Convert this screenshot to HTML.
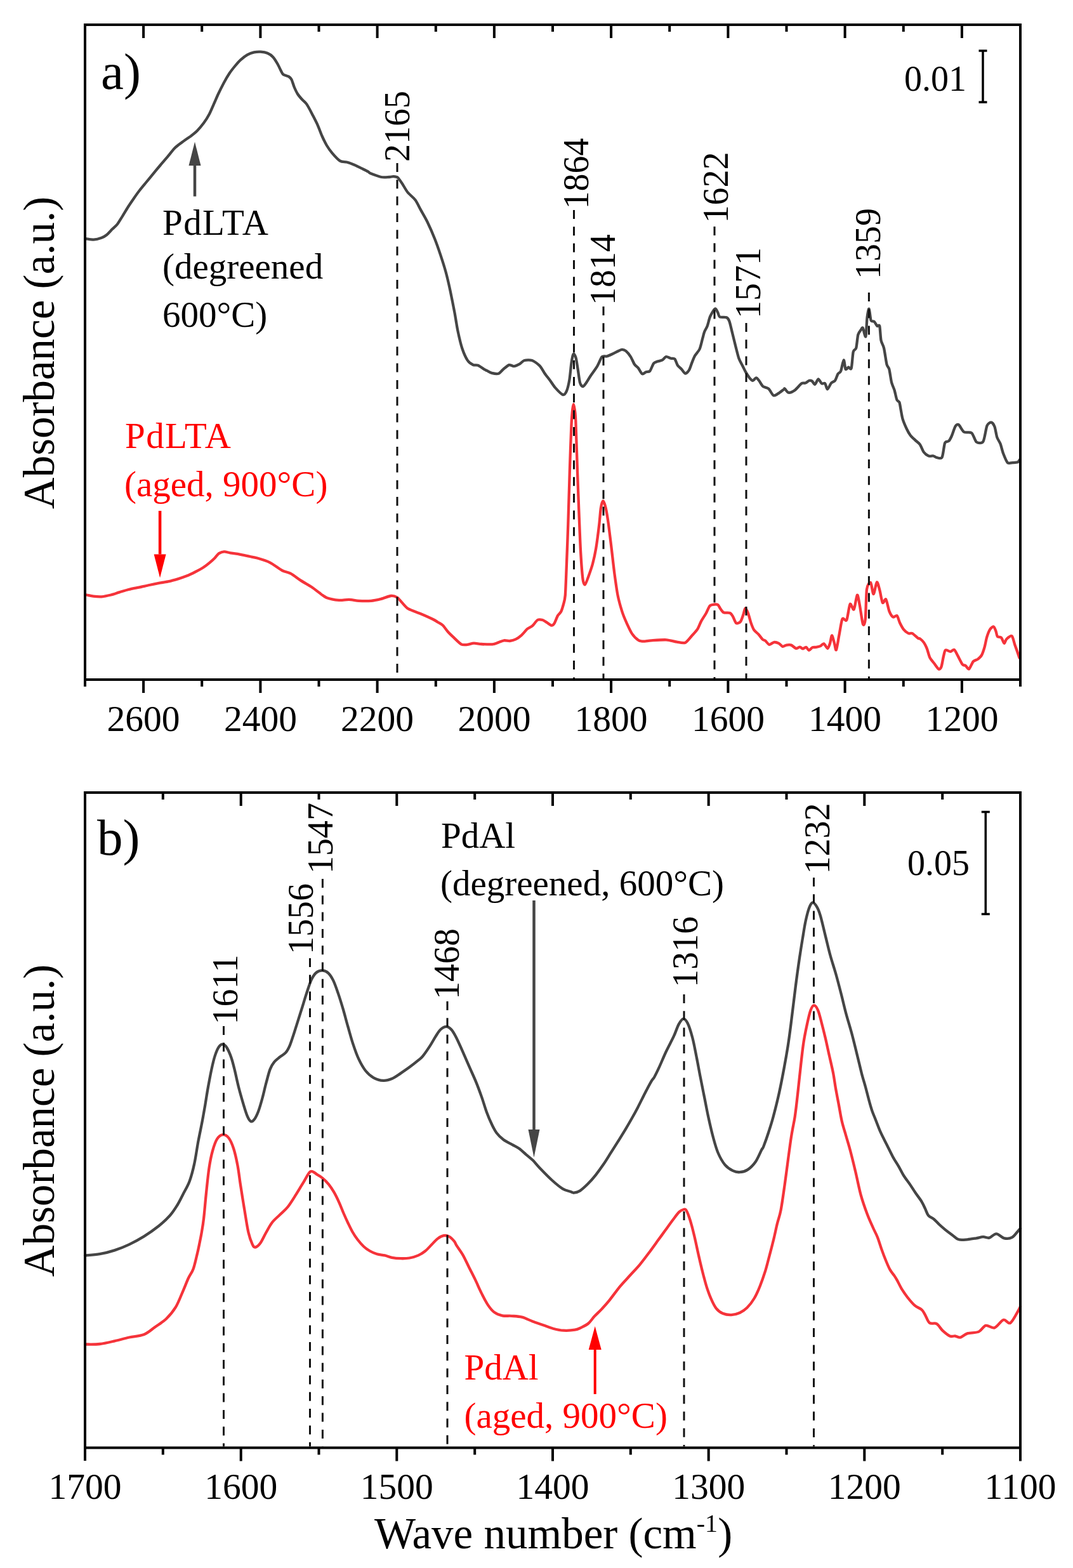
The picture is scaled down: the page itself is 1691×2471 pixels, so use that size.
<!DOCTYPE html><html><head><meta charset="utf-8"><title>IR spectra</title><style>html,body{margin:0;padding:0;background:#fff}svg{display:block}text{font-family:'Liberation Serif','Times New Roman',serif}</style></head><body>
<svg width="1691" height="2471" viewBox="0 0 1691 2471">
<rect width="1691" height="2471" fill="#fff"/>
<path d="M134 376.2C134.3 376.2 134.5 376.2 136.3 376.4C138.1 376.6 144.4 377.8 147.6 377.6C150.8 377.4 157.3 375.7 160 374.7C162.7 373.7 165.7 372 168 370.2C170.3 368.4 174.7 363.4 177 361.1C179.3 358.8 182.9 355.9 185 353.2C187.1 350.5 190.6 344.4 192.9 340.8C195.2 337.2 199.5 329.8 201.9 326C204.3 322.2 208.6 316 211 312.5C213.4 309 217.4 303.3 220 300C222.6 296.7 227.5 290.8 230.2 287.5C232.9 284.2 237.5 278.6 240.4 275.1C243.3 271.6 248.5 265.3 251.7 261.5C254.9 257.7 261 250.6 264.2 246.8C267.4 243 272.5 236.2 275.5 233.2C278.5 230.2 283.8 226.5 286.8 224.2C289.8 221.9 296.4 217.4 298.2 216.2C300 215 298.3 216.3 300 215C301.7 213.7 307.8 209 310.6 206.2C313.4 203.4 318.5 197.3 321.1 193.8C323.7 190.3 327.8 183.7 329.9 179.7C332 175.7 335.1 168.1 337 163.9C338.9 159.7 341.9 152.5 344 148C346.1 143.5 350.5 134.7 352.8 130.4C355.1 126.1 359.3 119 361.6 115.5C363.9 112 368.1 106.8 370.4 104C372.7 101.2 376.6 96.6 379.2 94.3C381.8 92 387 88 389.8 86.4C392.6 84.8 397.6 83 400.4 82.4C403.2 81.8 408.1 81.5 410.9 81.7C413.7 81.9 418.9 82.7 421.5 83.8C424.1 84.9 428.2 87.7 430.3 89.9C432.4 92.1 435.7 97.7 437.3 100.5C438.9 103.3 441.4 108.9 442.6 111.1C443.8 113.3 444.5 115.9 446.2 117.2C447.9 118.5 453.2 119.6 455 120.7C456.8 121.8 458.2 123 459.4 125.2C460.6 127.4 462.5 134.5 463.8 137.5C465.1 140.5 467.4 145.4 469 148C470.6 150.6 474.2 154.7 476.1 156.8C478 158.9 481 160.8 483.1 163.9C485.2 167 489.6 175.2 491.9 179.7C494.2 184.2 498.6 192.6 500.7 197.3C502.8 202 505.9 210.8 507.8 215C509.7 219.2 512.7 225.5 514.8 229C516.9 232.5 520.8 238.1 523.6 241.4C526.4 244.7 532.9 251.8 536 253.7C539.1 255.6 543.5 254.7 546.5 255.5C549.5 256.3 555.7 258.6 558.8 259.9C561.9 261.2 566.6 263.7 569.4 265.1C572.2 266.5 578.1 269.3 580 270.4C581.9 271.5 581.2 272.2 584 273.3C586.8 274.4 596.8 278.2 600.7 279C604.6 279.8 610.7 279.1 613.3 279C615.9 278.9 618.2 278 620 278.1C621.8 278.2 625.1 278.3 626.9 279.8C628.7 281.3 631.7 286.2 633.8 289.3C635.9 292.4 639.7 299.6 642.4 303C645.1 306.4 651.7 311.4 654.4 315.1C657.1 318.8 660.5 326 663 330.6C665.5 335.2 670.4 343.3 673.4 349.5C676.4 355.7 682.7 370.1 685.4 377C688.1 383.9 691.7 394.2 694 401.1C696.3 408 700.5 421.1 702.6 428.7C704.7 436.3 707.7 449.4 709.5 457.9C711.3 466.4 714.8 483.9 716.4 492.4C718 500.9 719.9 514 721.5 521.6C723.1 529.2 726.3 543 728.4 549.2C730.5 555.4 734.7 564.7 737 568.1C739.3 571.5 743.4 574 745.6 575C747.8 576 751.1 574.9 753.4 575.8C755.7 576.7 761 580.8 762.9 581.9C764.8 583 765.9 583.4 767.5 584.2C769.1 585 772.7 587.3 775.1 587.9C777.5 588.5 783.3 589.5 785.7 588.7C788.1 587.9 791 583.7 793.2 581.9C795.4 580.1 800.1 575.7 802.3 575.1C804.5 574.5 807.6 577.3 809.8 577.1C812 576.9 816.7 574.8 818.9 573.6C821.1 572.4 823.8 568.7 826.4 568C829 567.3 835.3 566.9 838.5 568C841.7 569.1 848 573.9 850.6 576.6C853.2 579.3 855.9 584.8 858.1 587.9C860.3 591 865 597 867.2 600C869.4 603 872.1 607.7 874.7 610.6C877.3 613.5 884.4 621.1 886.8 621.9C889.2 622.7 891.4 619.7 892.8 616.6C894.2 613.5 896.4 604.3 897.4 598.5C898.4 592.7 899.7 577.8 900.4 572.8C901.1 567.8 902 563 902.5 561C903 559 903.7 557.8 904.2 557.7C904.7 557.6 905.5 559 906 560C906.5 561 907.2 562.2 907.9 565.3C908.6 568.4 910.1 578.4 910.9 583.4C911.7 588.4 913 599.6 914 603C915 606.4 917.3 608.9 918.5 609.1C919.7 609.3 921.4 606.7 923 604.5C924.6 602.3 928.2 596.1 930.6 592.5C933 588.9 938.7 581.4 941.1 577.4C943.5 573.4 946.7 564.4 948.7 562.3C950.7 560.2 954 562.1 956.2 561.5C958.4 560.9 962.9 558.8 965.3 557.7C967.7 556.6 972.3 554.1 974.3 553.2C976.3 552.3 978.8 550.9 980.4 550.9C982 550.9 984.6 551.7 986.4 553.2C988.2 554.7 992.2 559.5 994 562.3C995.8 565.1 998.4 571.9 1000 574.3C1001.6 576.7 1004.4 578.2 1006 580.2C1007.6 582.2 1010.5 588.4 1012.1 589.2C1013.7 590 1016.5 586.8 1018.1 586.2C1019.7 585.6 1022.6 586.5 1024.2 584.7C1025.8 582.9 1028.6 574.6 1030.2 572.6C1031.8 570.6 1034.4 570.3 1036.2 569.6C1038 568.9 1042 568.4 1043.8 567.4C1045.6 566.4 1048 562.4 1049.8 562.1C1051.6 561.8 1055.6 564.3 1057.4 564.8C1059.2 565.3 1062 564.3 1063.4 565.8C1064.8 567.3 1066.5 573.6 1067.9 575.7C1069.3 577.8 1072.4 580 1074 581.7C1075.6 583.4 1078.4 588.3 1080 588.5C1081.6 588.7 1084.6 585.5 1086 583.2C1087.4 580.9 1089.4 574.1 1090.6 571.1C1091.8 568.1 1093.5 563.4 1095.1 560.6C1096.7 557.8 1101 553.6 1102.6 550C1104.2 546.4 1106.2 537 1107.2 533.4C1108.2 529.8 1109.2 525.4 1110.2 522.8C1111.2 520.2 1113.5 517 1114.7 513.8C1115.9 510.6 1117.6 502.3 1119.2 498.7C1120.8 495.1 1125.2 487.4 1126.8 486.6C1128.4 485.8 1130.3 490.9 1131.3 492.6C1132.3 494.3 1132.5 498.4 1134.3 499.4C1136.1 500.4 1142.9 499.3 1144.9 500.2C1146.9 501.1 1148.2 503 1149.4 506.2C1150.6 509.4 1152.6 518.7 1154 524.3C1155.4 529.9 1158.6 543.1 1160 548.5C1161.4 553.9 1163.1 561.3 1164.5 565.1C1165.9 568.9 1169.2 574.4 1170.6 577.2C1172 580 1173.7 583.8 1175.1 586.2C1176.5 588.6 1179.6 593.5 1181.1 595.3C1182.6 597.1 1185 599.8 1186.4 599.8C1187.8 599.8 1190.4 595.3 1191.7 595.3C1193 595.3 1194.8 598 1196.2 599.8C1197.6 601.6 1200.3 607.2 1202.3 608.9C1204.3 610.6 1209.1 610.7 1211.3 612.6C1213.5 614.5 1216.9 622.2 1218.9 623.2C1220.9 624.2 1224.2 621.5 1226.4 620.2C1228.6 618.9 1234.1 614.4 1235.5 613.4C1236.9 612.4 1235.8 611.9 1236.8 612.6C1237.8 613.3 1240.7 618.4 1242.8 618.7C1244.9 619 1249.9 616.8 1252.6 614.9C1255.3 613 1261 605.8 1263.2 604.3C1265.4 602.8 1267.6 604.2 1269.2 603.6C1270.8 603 1273.9 600.2 1275.3 599.8C1276.7 599.4 1278.6 599.8 1279.8 600.6C1281 601.4 1283 606.2 1284.3 605.8C1285.6 605.4 1288.2 597.7 1289.6 597.5C1291 597.3 1293.5 603.4 1294.9 604.3C1296.3 605.2 1299 603.1 1300.2 604.3C1301.4 605.5 1302.7 613.5 1304 613.4C1305.3 613.3 1308.4 605.4 1310 603.6C1311.6 601.8 1314.6 601.7 1316 599.8C1317.4 597.9 1319.4 591.2 1320.6 589.2C1321.8 587.2 1323.9 587.6 1325.1 584.7C1326.3 581.8 1328.6 567.8 1329.6 567.4C1330.6 567 1331.6 580.2 1332.6 581.7C1333.6 583.2 1336 578.9 1337.2 578.7C1338.4 578.5 1340.7 583.4 1341.7 580.2C1342.7 577 1343.7 558.7 1344.7 554.5C1345.7 550.3 1348.2 552.1 1349.2 548.5C1350.2 544.9 1351.3 531.2 1352.3 527.4C1353.3 523.6 1355.8 521.2 1356.8 519.8C1357.8 518.4 1358.8 515.4 1359.8 516.8C1360.8 518.2 1363.4 532.6 1364.3 530.4C1365.2 528.2 1365.9 506 1366.6 500.2C1367.3 494.4 1368.8 486 1369.6 486.6C1370.4 487.2 1371.5 502 1372.6 504.7C1373.7 507.4 1376.6 505.8 1377.9 507C1379.2 508.2 1381.4 512.9 1382.5 513.8C1383.6 514.7 1385.4 510.8 1386.2 513.8C1387 516.8 1387.6 531.8 1388.5 536.4C1389.4 541 1391.8 543.5 1393 548.5C1394.2 553.5 1396.4 569.8 1397.5 574.2C1398.6 578.6 1400.3 577.9 1401.3 581.7C1402.3 585.5 1404 598.4 1405.1 602.8C1406.2 607.2 1408.5 611.3 1409.6 614.9C1410.7 618.5 1412.4 627.5 1413.4 630C1414.4 632.5 1416.6 632 1417.4 634C1418.2 636 1418.9 641.8 1419.6 645.3C1420.3 648.8 1421.4 656.4 1422.6 660.4C1423.8 664.4 1427.1 672.1 1428.7 675.5C1430.3 678.9 1432.9 683.6 1434.7 686C1436.5 688.4 1440.3 691.7 1442.3 693.6C1444.3 695.5 1448 697.9 1449.8 700.4C1451.6 702.9 1454 710.1 1455.8 712.5C1457.6 714.9 1461.4 717.7 1463.4 718.5C1465.4 719.3 1469.3 718.2 1470.9 718.5C1472.5 718.8 1473.7 720.5 1475.5 720.8C1477.3 721.1 1482.7 723.8 1484.5 720.8C1486.3 717.8 1487.7 701.5 1489.1 698.1C1490.5 694.7 1493.7 696.5 1495.1 695.1C1496.5 693.7 1498.2 690.6 1499.6 687.5C1501 684.4 1504.2 674.1 1505.7 671.7C1507.2 669.3 1509.1 668.2 1510.9 669.4C1512.7 670.6 1516.5 679.1 1519.2 680.8C1521.9 682.5 1528.7 680.2 1531.3 682.3C1533.9 684.4 1536.5 694.8 1538.9 696.6C1541.3 698.4 1547.2 699.2 1549.4 695.8C1551.6 692.4 1553.8 674.9 1555.5 670.9C1557.2 666.9 1560.7 665.5 1562.3 665.7C1563.9 665.9 1566.3 669.4 1567.5 672.5C1568.7 675.6 1570.1 685.5 1571.3 689.1C1572.5 692.7 1575.3 696.2 1576.6 699.6C1577.9 703 1579.6 710.8 1581.1 714.7C1582.6 718.6 1585.9 727.2 1587.9 729.1C1589.9 731 1594.1 729.2 1596.2 729.1C1598.3 729 1602.3 729 1603.8 728.3C1605.3 727.6 1607 724.4 1607.5 723.8" stroke="#454545" stroke-width="4.3" fill="none" stroke-linejoin="round" stroke-linecap="round"/>
<path d="M134 937.3C134.3 937.3 134.8 937.2 136.5 937.5C138.2 937.8 143.9 939.2 147.1 939.6C150.3 940 156.5 940.6 160.2 940.3C163.9 940 171.2 938.4 174.9 937.5C178.6 936.6 184.3 934.5 188 933.4C191.7 932.3 198.6 930 202.7 929C206.8 928 214.6 926.5 219 925.6C223.4 924.7 231 922.9 235.4 922C239.8 921.1 247.6 919.5 251.7 918.7C255.8 917.9 262.6 917.1 266.5 916.2C270.4 915.3 277.5 913.2 281.2 912.1C284.9 911 290.8 909 294.3 907.6C297.8 906.2 303.8 903.3 307.3 901.5C310.8 899.7 317.3 896.2 320.4 894.2C323.5 892.2 327.8 888.8 330.2 886.8C332.6 884.8 336.4 881.4 338.4 879.4C340.4 877.4 343 873.4 345 872.1C347 870.8 350.7 869.4 353.1 869.3C355.5 869.2 360.1 870.8 362.9 871.3C365.7 871.8 371.6 872.4 374.4 872.9C377.2 873.4 381.6 874.4 384.2 874.9C386.8 875.4 391.1 876.4 394 877C396.9 877.6 401.5 878.3 405.6 879.5C409.7 880.7 419.9 883.7 425.1 886.3C430.3 888.9 440.2 896.7 444.6 899C449 901.3 454.3 901.8 458.2 903.9C462.1 906 469.4 911.7 473.8 914.6C478.2 917.5 487.5 922.7 491.4 925.3C495.3 927.9 500 931.9 503.1 934.1C506.2 936.3 510.6 940.3 514.8 941.9C519 943.5 529.6 945.4 534.3 945.8C539 946.2 545.7 944.7 549.9 944.8C554.1 944.9 560.8 946.5 565.5 946.8C570.2 947.1 580.3 947.2 585 946.8C589.7 946.4 596.4 944.8 600.6 943.8C604.8 942.8 612.8 939.3 616.2 939C619.6 938.7 623.6 940.1 625.9 941.5C628.2 942.9 631.4 947.3 633.7 949.7C636 952.1 639.6 957.1 643.5 959.4C647.4 961.7 657.8 965 663 967.2C668.2 969.4 678.9 974.2 682.5 976C686.1 977.8 687.9 979.2 690 980.5C692.1 981.8 695.8 983.5 697.9 985.5C700 987.5 703.5 992.9 705.8 995.5C708.1 998.1 712.3 1002.1 715.1 1004.7C717.9 1007.3 724.2 1013.8 727 1015.3C729.8 1016.8 733.6 1016.1 736.2 1015.9C738.8 1015.7 743.8 1013.8 746.8 1013.7C749.8 1013.6 754.8 1014.8 758.7 1015C762.6 1015.2 772.4 1015.6 775.9 1015.3C779.4 1015 782.6 1013.4 785.1 1012.6C787.6 1011.8 791.8 1009.6 794.3 1009.3C796.8 1009 801.1 1010.3 803.6 1010C806.1 1009.7 810.3 1008.6 812.8 1007.4C815.3 1006.2 819.6 1003 822.1 1000.8C824.6 998.6 829 992.8 831.3 990.9C833.6 989 837.1 988.1 839.2 986.2C841.3 984.3 845.1 978.2 847.2 977C849.3 975.8 853.2 976.5 855.1 977C857 977.5 859.8 979.8 861.7 980.9C863.6 982 867.4 985.4 869 985.6C870.6 985.8 872.3 984.3 873.6 982.3C874.9 980.3 877.5 972.9 878.9 970.4C880.3 967.9 883 966.3 884.2 963.8C885.4 961.3 887.2 955.3 888.1 951.9C889 948.5 890.2 945.5 890.8 938C891.4 930.5 892.1 910.3 892.7 895.4C893.3 880.5 894.6 847.2 895.3 826.5C896 805.8 897.2 761.2 897.9 740.5C898.6 719.8 899.8 684.3 900.4 671.6C901 658.9 901.8 649.6 902.3 645C902.8 640.4 903.5 637.2 903.9 637.2C904.3 637.2 905.1 641.6 905.6 645C906.1 648.4 906.7 650.3 907.3 663C907.9 675.7 909.2 721 909.9 740.5C910.6 760 911.8 792.1 912.5 809.3C913.2 826.5 914.3 855.8 915.1 869.6C915.9 883.4 917.6 905.7 918.5 912.6C919.4 919.5 920.9 921.7 922 921.2C923.1 920.7 925.5 913.6 927.1 909.2C928.7 904.8 932.4 894.5 934 888.5C935.6 882.5 937.8 872.7 939.2 864.4C940.6 856.1 943.3 835 944.3 826.5C945.3 818 946.1 805.6 946.9 800.7C947.7 795.8 949.4 789.5 950.4 789.5C951.4 789.5 953.6 795.8 954.7 800.7C955.8 805.6 957.9 818.5 959 826.5C960.1 834.5 962 850.7 963.3 861C964.6 871.3 967 893.7 968.4 904C969.8 914.3 972 930.4 973.6 938.4C975.2 946.4 978.7 958.5 980.5 964.2C982.3 969.9 985.3 976.8 987.4 981.4C989.5 986 993.5 994.9 996 998.6C998.5 1002.3 1003.8 1007.4 1006.3 1009C1008.8 1010.6 1012.2 1010.7 1014.9 1010.7C1017.6 1010.7 1022 1009.6 1026.7 1009.3C1031.4 1009 1044.7 1008 1050 1008.3C1055.3 1008.6 1062.7 1011.1 1066.7 1011.7C1070.7 1012.3 1076.9 1014 1080 1012.7C1083.1 1011.4 1087.5 1005.1 1090 1002.3C1092.5 999.5 1097.1 994.8 1099.1 991.7C1101.1 988.6 1103.3 982.2 1105.1 978.9C1106.9 975.6 1110.8 970 1112.6 966.8C1114.4 963.6 1116.9 956.6 1118.7 954.7C1120.5 952.8 1124.5 952.7 1126.2 952.5C1127.9 952.3 1130.3 952.3 1131.5 953.2C1132.7 954.1 1134.1 957.6 1135.3 959.2C1136.5 960.8 1138.6 964.4 1140.6 965.3C1142.6 966.2 1148.5 965.2 1150.4 966C1152.3 966.8 1153.6 969.2 1154.9 971.3C1156.2 973.4 1158.6 980.8 1160.2 981.9C1161.8 983 1165.5 981.4 1167 979.6C1168.5 977.8 1170.5 971.1 1171.5 968.3C1172.5 965.5 1173.5 958.7 1174.5 958.5C1175.5 958.3 1177.9 963.7 1179.1 966.8C1180.3 969.9 1182.4 978.5 1183.6 981.9C1184.8 985.3 1186.5 990.1 1188.1 992.5C1189.7 994.9 1193.9 998 1195.7 1000C1197.5 1002 1200.3 1006.2 1201.7 1007.5C1203.1 1008.8 1204.8 1008.7 1206.2 1009.8C1207.6 1010.9 1210.5 1015.5 1212.3 1015.8C1214.1 1016.1 1217.8 1012.4 1219.8 1012.1C1221.8 1011.8 1225.6 1013 1227.4 1013.9C1229.2 1014.8 1231.8 1018.5 1233.4 1018.9C1235 1019.3 1237.6 1016.9 1239.4 1016.6C1241.2 1016.3 1245 1015.9 1247 1016.6C1249 1017.3 1252.7 1021.5 1254.5 1021.9C1256.3 1022.3 1259.2 1019.5 1260.6 1019.6C1262 1019.7 1263.8 1022.3 1265.1 1022.3C1266.4 1022.3 1269.1 1019.6 1270.4 1019.9C1271.7 1020.2 1273.6 1024.8 1274.9 1024.9C1276.2 1025 1278.7 1021.1 1280.2 1020.4C1281.7 1019.7 1284.5 1020.2 1286.2 1019.9C1287.9 1019.6 1291.4 1018.8 1293 1018.1C1294.6 1017.4 1296.8 1013.8 1298.3 1014.3C1299.8 1014.8 1303 1022 1304.3 1021.9C1305.6 1021.8 1307.2 1016.3 1308.1 1013.6C1309 1010.9 1310.2 1001.5 1311.1 1001.5C1312 1001.5 1314 1010.6 1314.9 1013.6C1315.8 1016.6 1316.9 1025.9 1317.9 1024.2C1318.9 1022.5 1321.2 1007 1322.5 1000.5C1323.8 994 1325.9 978.6 1327.5 975.5C1329.1 972.4 1332.7 980.1 1334.3 977C1335.9 973.9 1338.1 954.3 1339.6 952.1C1341.1 949.9 1344.2 962.3 1345.7 960.4C1347.2 958.5 1349.7 938.7 1350.9 937.7C1352.1 936.7 1353.5 946.7 1354.7 952.8C1355.9 958.9 1358.8 980.8 1360 983.8C1361.2 986.8 1363 982.8 1363.8 975.5C1364.6 968.2 1364.9 936.4 1366 928.7C1367.1 921 1370.7 917.1 1372.1 918.1C1373.5 919.1 1375.3 936.3 1376.6 936.2C1377.9 936.1 1380.6 918.2 1381.9 917.4C1383.2 916.6 1385.2 925.9 1386.4 930.2C1387.6 934.5 1389.6 947.9 1390.9 949.8C1392.2 951.7 1394.8 942.7 1396.2 944.5C1397.6 946.3 1400 959.7 1401.5 963.4C1403 967.1 1405.9 971.6 1407.5 972.5C1409.1 973.4 1412.2 969 1413.6 970.2C1415 971.4 1416.7 978.6 1418.1 981.5C1419.5 984.4 1422.4 989.9 1424.2 992.1C1426 994.3 1429.9 997.3 1431.7 998.1C1433.5 998.9 1435.7 997.1 1437.7 998.1C1439.7 999.1 1445.2 1004.6 1446.8 1005.7C1448.4 1006.8 1448.8 1005.7 1450 1006.6C1451.2 1007.5 1454.6 1010.5 1456 1012.6C1457.4 1014.7 1459.5 1018.9 1460.8 1022.1C1462.1 1025.3 1463.9 1033.3 1465.5 1036.5C1467.1 1039.7 1470.9 1043.6 1472.7 1046C1474.5 1048.4 1477.9 1053.8 1479.3 1054.4C1480.7 1055 1482.5 1053.5 1483.5 1050.8C1484.5 1048.1 1486.1 1037.6 1487 1034.1C1487.9 1030.6 1488.6 1025.5 1490 1024.5C1491.4 1023.5 1496 1027 1497.8 1026.9C1499.6 1026.8 1502.2 1022.9 1503.8 1023.9C1505.4 1024.9 1508.1 1031 1509.8 1034.1C1511.5 1037.2 1515.3 1045.2 1516.9 1047.2C1518.5 1049.2 1520.3 1048 1521.7 1049C1523.1 1050 1525.5 1055.3 1527.1 1054.4C1528.7 1053.5 1531.9 1044.6 1533.7 1042.5C1535.5 1040.4 1539.1 1040.2 1540.8 1038.9C1542.5 1037.6 1545.4 1035.4 1546.8 1032.9C1548.2 1030.4 1550.5 1023.6 1551.6 1019.8C1552.7 1016 1554.1 1007.9 1555.2 1004.2C1556.3 1000.5 1558.5 994.5 1559.9 992.3C1561.3 990.1 1564.6 987.2 1565.9 987.5C1567.2 987.8 1568.7 992.6 1569.5 994.7C1570.3 996.8 1570.8 1001.7 1571.9 1003C1573 1004.3 1576.5 1003.4 1577.9 1004.8C1579.3 1006.2 1581.5 1013.5 1582.6 1013.8C1583.7 1014.1 1584.6 1008.7 1586.2 1007.2C1587.8 1005.7 1592.8 1001.2 1594.6 1002.4C1596.4 1003.6 1597.8 1011.7 1599.4 1016.2C1601 1020.7 1605.6 1033.8 1606.5 1036.5" stroke="#f5333a" stroke-width="4.3" fill="none" stroke-linejoin="round" stroke-linecap="round"/>
<line x1="626" y1="257" x2="626" y2="1069" stroke="#111" stroke-width="3" stroke-dasharray="14 12.3"/>
<line x1="904.5" y1="331" x2="904.5" y2="1069" stroke="#111" stroke-width="3" stroke-dasharray="14 12.3"/>
<line x1="951" y1="483" x2="951" y2="1069" stroke="#111" stroke-width="3" stroke-dasharray="14 12.3"/>
<line x1="1126" y1="357" x2="1126" y2="1069" stroke="#111" stroke-width="3" stroke-dasharray="14 12.3"/>
<line x1="1176" y1="509" x2="1176" y2="1069" stroke="#111" stroke-width="3" stroke-dasharray="14 12.3"/>
<line x1="1369.4" y1="461" x2="1369.4" y2="1069" stroke="#111" stroke-width="3" stroke-dasharray="14 12.3"/>
<path d="M226.1 39 V60 M226.1 1071 V1092 M410.4 39 V60 M410.4 1071 V1092 M594.6 39 V60 M594.6 1071 V1092 M778.9 39 V60 M778.9 1071 V1092 M963.1 39 V60 M963.1 1071 V1092 M1147.4 39 V60 M1147.4 1071 V1092 M1331.6 39 V60 M1331.6 1071 V1092 M1515.9 39 V60 M1515.9 1071 V1092 M318.2 39 V50 M318.2 1071 V1082 M502.5 39 V50 M502.5 1071 V1082 M686.8 39 V50 M686.8 1071 V1082 M871 39 V50 M871 1071 V1082 M1055.2 39 V50 M1055.2 1071 V1082 M1239.5 39 V50 M1239.5 1071 V1082 M1423.8 39 V50 M1423.8 1071 V1082 M1608 39 V50 M1608 1071 V1082" stroke="#000" stroke-width="4" fill="none"/>
<rect x="134" y="39" width="1474" height="1032" fill="none" stroke="#000" stroke-width="4"/>
<path d="M134 1071 V1082 M1608 1071 V1082" stroke="#000" stroke-width="4"/>
<text x="226.1" y="1151.5" font-size="57.5" fill="#000" text-anchor="middle">2600</text>
<text x="410.4" y="1151.5" font-size="57.5" fill="#000" text-anchor="middle">2400</text>
<text x="594.6" y="1151.5" font-size="57.5" fill="#000" text-anchor="middle">2200</text>
<text x="778.9" y="1151.5" font-size="57.5" fill="#000" text-anchor="middle">2000</text>
<text x="963.1" y="1151.5" font-size="57.5" fill="#000" text-anchor="middle">1800</text>
<text x="1147.4" y="1151.5" font-size="57.5" fill="#000" text-anchor="middle">1600</text>
<text x="1331.6" y="1151.5" font-size="57.5" fill="#000" text-anchor="middle">1400</text>
<text x="1515.9" y="1151.5" font-size="57.5" fill="#000" text-anchor="middle">1200</text>
<text x="0" y="0" transform="translate(645 199) rotate(-90)" text-anchor="middle" font-size="56">2165</text>
<text x="0" y="0" transform="translate(926.5 273.5) rotate(-90)" text-anchor="middle" font-size="56">1864</text>
<text x="0" y="0" transform="translate(968.5 425) rotate(-90)" text-anchor="middle" font-size="56">1814</text>
<text x="0" y="0" transform="translate(1146.5 295.5) rotate(-90)" text-anchor="middle" font-size="56">1622</text>
<text x="0" y="0" transform="translate(1198 446) rotate(-90)" text-anchor="middle" font-size="56">1571</text>
<text x="0" y="0" transform="translate(1386.5 384) rotate(-90)" text-anchor="middle" font-size="56">1359</text>
<text x="159" y="140" font-size="81" fill="#000">a)</text>
<text x="1425" y="143" font-size="56" fill="#000">0.01</text>
<path d="M1549 80 V161 M1542.5 80 H1555.5 M1542.5 161 H1555.5" stroke="#000" stroke-width="3.5" fill="none"/>
<text x="256" y="369.5" font-size="57" fill="#000" textLength="167" lengthAdjust="spacing">PdLTA</text>
<text x="256" y="439" font-size="57" fill="#000">(degreened</text>
<text x="256" y="515" font-size="57" fill="#000">600°C)</text>
<line x1="307" y1="309.5" x2="307" y2="261" stroke="#454545" stroke-width="4.5"/>
<path d="M297.5 261 L316.5 261 L307 223.5 Z" fill="#454545"/>
<text x="197" y="706" font-size="57" fill="#ff0000" textLength="167" lengthAdjust="spacing">PdLTA</text>
<text x="196" y="781.5" font-size="57" fill="#ff0000">(aged, 900°C)</text>
<line x1="252.1" y1="805" x2="252.1" y2="873.5" stroke="#ff0000" stroke-width="4.5"/>
<path d="M242.6 873.5 L261.6 873.5 L252.1 910.5 Z" fill="#ff0000"/>
<text x="0" y="0" transform="translate(84.5 556) rotate(-90)" text-anchor="middle" font-size="69">Absorbance (a.u.)</text>
<path d="M134 1978.5C137.9 1978.1 149.4 1977.5 157.2 1976.2C164.9 1974.9 172.8 1972.9 180.5 1970.4C188.2 1967.9 195.9 1964.8 203.7 1961.1C211.4 1957.4 219.2 1953.1 227 1948.3C234.8 1943.5 243.4 1937.4 250.2 1932C257 1926.6 262.8 1921.2 267.6 1915.8C272.4 1910.4 275.7 1905.1 279.2 1899.5C282.7 1893.9 285.3 1888.3 288.5 1882C291.7 1875.7 295.6 1869.7 298.6 1861.7C301.6 1853.7 304 1844.4 306.3 1833.8C308.6 1823.2 310.4 1809.3 312.5 1798.2C314.6 1787.1 316.9 1776.8 318.7 1767.2C320.5 1757.6 321.8 1749.8 323.4 1740.8C324.9 1731.8 326.3 1722.3 328 1713C329.7 1703.7 331.6 1693.4 333.4 1685.1C335.2 1676.8 336.9 1669.4 338.9 1663.4C340.8 1657.5 343 1652.4 345.1 1649.4C347.2 1646.4 349.2 1645.3 351.3 1645.6C353.4 1645.9 355.3 1647.5 357.5 1651C359.7 1654.5 362.3 1660.6 364.4 1666.5C366.5 1672.4 368 1678.8 369.9 1686.6C371.8 1694.3 373.7 1704 376 1713C378.3 1722 381.5 1733.1 383.8 1740.8C386.1 1748.5 388.1 1755 390 1759.4C391.9 1763.8 393.6 1766.4 395.4 1767.2C397.2 1768 398.9 1766.7 400.8 1764.1C402.7 1761.5 404.9 1757.1 407 1751.7C409.1 1746.3 411.1 1739 413.2 1731.5C415.3 1724 417.3 1714.5 419.4 1706.8C421.5 1699.1 423.5 1690.5 425.6 1685.1C427.7 1679.7 429.2 1677.4 431.8 1674.2C434.4 1671 438 1668.3 441.1 1665.7C444.2 1663.1 447.8 1661.7 450.4 1658.7C453 1655.7 454.7 1652.3 456.6 1647.9C458.5 1643.5 460.1 1638 462 1632.4C463.9 1626.9 465.4 1621.7 467.7 1614.6C469.9 1607.5 472.9 1598.2 475.5 1589.9C478.1 1581.7 480.6 1572.8 483.2 1565.1C485.8 1557.3 488.4 1548.8 491 1543.4C493.6 1538 495.9 1534.8 498.7 1532.5C501.5 1530.2 504.9 1529.3 508 1529.4C511.1 1529.5 514.4 1530.7 517.3 1533.3C520.1 1535.9 522.5 1539.6 525.1 1544.9C527.7 1550.2 530.2 1557.6 532.8 1565.1C535.4 1572.6 538 1581.1 540.6 1589.9C543.2 1598.7 545.7 1608.7 548.3 1617.7C550.9 1626.7 553.2 1635.6 556 1644.1C558.8 1652.6 561.9 1661.7 565.3 1668.9C568.7 1676.1 572.3 1682.6 576.2 1687.5C580.1 1692.4 584 1695.7 588.6 1698.3C593.2 1700.9 599.2 1702.7 604.1 1702.9C609 1703.2 613.6 1701.6 618 1699.8C622.4 1698 625.8 1695.2 630.4 1692.1C635 1689 641 1684.9 645.9 1681.3C650.8 1677.7 656.4 1673.2 659.8 1670.4C663.2 1667.6 663.4 1668 666.3 1664.4C669.2 1660.8 673.8 1654.1 677.2 1648.9C680.6 1643.7 683.7 1637.8 686.5 1633.4C689.3 1629 691.4 1625.1 694.2 1622.5C697 1619.9 700.6 1617.9 703.5 1617.9C706.4 1617.9 708.7 1619.7 711.3 1622.5C713.9 1625.3 716.2 1629.5 719 1634.9C721.8 1640.3 724.9 1647.6 728.3 1655.1C731.6 1662.6 735.5 1671.7 739.1 1679.9C742.7 1688.2 746.6 1696.3 750 1704.6C753.4 1712.8 756.5 1721.4 759.3 1729.4C762.1 1737.4 764.4 1745.7 767 1752.7C769.6 1759.7 772.2 1765.9 774.8 1771.3C777.4 1776.7 779.4 1781.1 782.5 1785.2C785.6 1789.3 789.3 1792.9 793.4 1796C797.5 1799.1 803.2 1801.5 807.3 1803.8C811.4 1806.1 814.6 1807.4 818.2 1810C821.8 1812.6 825.4 1816.2 829 1819.3C832.6 1822.4 836.3 1825.1 839.8 1828.6C843.3 1832 845 1834.8 850 1840C855 1845.2 863.9 1854.5 870 1860C876.1 1865.5 881.7 1870.3 886.7 1873.3C891.7 1876.3 897 1877.1 900 1878.2C903 1879.3 902.3 1880 904.6 1879.7C906.9 1879.4 910.3 1878.9 913.9 1876.6C917.5 1874.3 922.2 1869.9 926.3 1865.8C930.4 1861.7 934.6 1857 938.7 1851.8C942.8 1846.6 947.2 1840.5 951.1 1834.8C955 1829.1 958.4 1823.4 962 1817.7C965.6 1812 968.9 1806.9 972.8 1800.7C976.7 1794.5 981.3 1787 985.2 1780.6C989.1 1774.1 992.6 1768 996 1762C999.4 1756 1001.9 1751.4 1005.3 1744.9C1008.7 1738.4 1012.6 1730.2 1016.2 1723.2C1019.8 1716.2 1024.5 1707.3 1027 1703.1C1029.5 1698.8 1029 1701.2 1031 1697.7C1033 1694.2 1035.6 1688.9 1038.7 1682.2C1041.8 1675.5 1045.7 1665.8 1049.6 1657.5C1053.5 1649.2 1058.7 1639.9 1062 1632.7C1065.3 1625.5 1067.2 1618.6 1069.7 1614.1C1072.2 1609.6 1074.4 1605.9 1076.7 1605.6C1079 1605.3 1081.2 1607.5 1083.7 1612.5C1086.2 1617.5 1089.1 1627 1091.4 1635.8C1093.7 1644.6 1095.5 1654.9 1097.6 1665.2C1099.7 1675.5 1101.7 1687.1 1103.8 1697.7C1105.9 1708.3 1107.9 1718.4 1110 1728.7C1112.1 1739 1113.9 1749.1 1116.2 1759.7C1118.5 1770.3 1121.3 1782.7 1123.9 1792.2C1126.5 1801.8 1128.6 1809.8 1131.7 1817C1134.8 1824.2 1138.6 1830.9 1142.5 1835.6C1146.4 1840.2 1151 1843 1154.9 1844.9C1158.8 1846.8 1161.9 1847.5 1165.8 1847.2C1169.7 1847 1174.1 1846.1 1178.2 1843.4C1182.3 1840.7 1187 1836.2 1190.6 1831C1194.2 1825.8 1197.9 1816.5 1200 1812.4C1202.1 1808.4 1201.5 1811.3 1203.3 1806.7C1205.1 1802.1 1208.5 1792.8 1211 1785C1213.5 1777.2 1215.8 1770.5 1218.6 1760C1221.4 1749.5 1225.1 1735 1227.9 1722.2C1230.7 1709.5 1233.3 1695.9 1235.6 1683.5C1237.9 1671.1 1240 1659.5 1241.8 1647.9C1243.6 1636.3 1245 1625.7 1246.5 1613.8C1248 1601.9 1249.5 1589 1251.1 1576.6C1252.6 1564.2 1254.2 1551 1255.8 1539.4C1257.3 1527.8 1258.9 1517.2 1260.4 1506.9C1262 1496.6 1263.5 1486.8 1265.1 1477.5C1266.6 1468.2 1268 1458.8 1269.7 1451.1C1271.4 1443.3 1273.3 1435.8 1275.1 1431C1276.9 1426.2 1278.5 1422.8 1280.6 1422.5C1282.7 1422.2 1285.4 1425.9 1287.5 1429.4C1289.6 1432.9 1290.8 1435.9 1293 1443.4C1295.2 1450.9 1298.1 1464.1 1300.7 1474.4C1303.3 1484.7 1305.6 1495 1308.4 1505.3C1311.2 1515.6 1314.9 1526.2 1317.7 1536.3C1320.5 1546.4 1322.9 1555.7 1325.5 1565.8C1328.1 1575.9 1330.4 1586.1 1333.2 1596.7C1336 1607.3 1339.4 1617.7 1342.5 1629.3C1345.6 1640.9 1349.2 1656 1351.8 1666.5C1354.4 1677 1356 1684.2 1358 1692C1360 1699.8 1362.1 1706 1364 1713C1365.9 1720 1367.8 1727.7 1369.5 1734C1371.2 1740.3 1372.8 1745.9 1374.4 1750.6C1376 1755.3 1376.7 1756.5 1378.9 1762C1381.1 1767.5 1384.3 1776.5 1387.5 1783.7C1390.7 1790.9 1395 1798.8 1398.2 1805.2C1401.4 1811.7 1403.8 1816.8 1406.8 1822.4C1409.8 1828 1413.6 1833.6 1416.5 1838.6C1419.4 1843.6 1421 1847.7 1424.1 1852.5C1427.1 1857.3 1431.7 1863 1434.8 1867.6C1437.9 1872.2 1439.9 1875.6 1442.9 1880C1445.9 1884.4 1450.1 1889.6 1452.6 1893.8C1455.1 1898 1456.4 1901.3 1458.1 1904.9C1459.8 1908.5 1460.7 1912.5 1463 1915.3C1465.3 1918.1 1469.1 1919.1 1472 1921.5C1474.9 1923.9 1477.3 1927 1480.3 1929.8C1483.3 1932.6 1486.5 1935.3 1489.9 1938.1C1493.4 1940.9 1497.5 1943.9 1501 1946.4C1504.5 1948.9 1506.8 1952.2 1510.7 1953.3C1514.6 1954.4 1519.9 1953.6 1524.5 1953.3C1529.1 1953 1534.2 1952 1538.4 1951.3C1542.6 1950.6 1546 1949.3 1549.4 1949.2C1552.9 1949.1 1555.6 1951.4 1559.1 1950.6C1562.6 1949.8 1566.3 1944.2 1570.2 1944.3C1574.1 1944.4 1578.4 1950.4 1582.6 1951.3C1586.8 1952.2 1591.4 1951.9 1595.1 1949.9C1598.8 1947.9 1602.6 1941.8 1604.8 1939.5C1607 1937.2 1607.5 1936.6 1608 1936" stroke="#454545" stroke-width="4.3" fill="none" stroke-linejoin="round" stroke-linecap="round"/>
<path d="M134 2118.5C137.9 2118.4 149.4 2118.9 157.2 2118C164.9 2117.1 172.8 2115.1 180.5 2113.3C188.2 2111.6 195.9 2109.2 203.7 2107.5C211.4 2105.8 220.2 2105.6 227 2102.9C233.8 2100.2 238.6 2095.3 244.4 2091.2C250.2 2087.1 256.4 2083.7 261.8 2078.5C267.2 2073.3 272.4 2067.3 276.9 2059.9C281.3 2052.5 285.1 2042 288.5 2034.3C291.9 2026.6 294.3 2019.7 297 2014C299.7 2008.3 302.3 2005.9 304.5 2000C306.7 1994.1 308.6 1984.9 310.2 1978.5C311.8 1972.1 312.8 1967.5 314 1961.5C315.2 1955.5 316.5 1949.5 317.7 1942.6C318.9 1935.7 319.9 1930.4 321.1 1920C322.3 1909.6 323.6 1893.3 325 1880C326.4 1866.7 327.9 1851.1 329.6 1840C331.3 1828.9 332.9 1821.1 335 1813.6C337.1 1806.1 339.3 1799.3 342 1795.1C344.7 1790.8 348.2 1788.4 351.3 1788.1C354.4 1787.8 357.8 1789.8 360.6 1793.5C363.4 1797.2 366 1803.3 368.3 1810.5C370.6 1817.7 372.7 1827.3 374.5 1836.9C376.3 1846.5 377.3 1856.3 379.1 1867.9C380.9 1879.5 383.2 1894.2 385.3 1906.6C387.4 1919 389.4 1933.2 391.5 1942.2C393.6 1951.2 395.9 1956.9 397.7 1960.8C399.5 1964.7 400.3 1965.8 402.4 1965.5C404.5 1965.2 407.3 1963.2 410.1 1959.3C412.9 1955.4 416.3 1947.6 419.4 1942.2C422.5 1936.8 425.1 1931.4 428.7 1926.7C432.3 1922 437 1918.4 441.1 1914.3C445.2 1910.2 449.4 1907.2 453.5 1902C457.6 1896.8 461.8 1889.9 465.9 1883.4C470 1876.9 474.4 1869.4 478.3 1863.2C482.2 1857 485.8 1848.2 489.4 1846.2C493 1844.2 496.9 1849.4 500 1851.1C503.1 1852.8 505.3 1854.1 508.3 1856.6C511.3 1859.1 515 1862.6 518 1866.3C521 1870 523.5 1873.9 526.3 1878.7C529.1 1883.5 532.1 1889.8 534.6 1895.3C537.1 1900.8 539.2 1906.7 541.5 1912C543.8 1917.3 546.1 1922.4 548.4 1927.2C550.7 1932 552.8 1936.6 555.3 1941C557.8 1945.4 560.6 1949.6 563.6 1953.5C566.6 1957.4 570.1 1961.5 573.3 1964.5C576.5 1967.5 579.5 1969.5 583 1971.5C586.5 1973.5 590.2 1975.1 594.1 1976.3C598 1977.5 602.6 1977.5 606.5 1978.4C610.4 1979.3 613.4 1981 617.6 1981.8C621.8 1982.6 626.9 1983.1 631.5 1983.2C636.1 1983.3 640.7 1983.3 645.3 1982.5C649.9 1981.7 655 1980.2 659.1 1978.4C663.2 1976.6 666.7 1974.3 670.2 1971.5C673.7 1968.7 676.7 1965 679.9 1961.8C683.1 1958.6 686.4 1954.5 689.6 1952.1C692.8 1949.7 696.3 1947.8 699.3 1947.2C702.3 1946.6 704.8 1947.1 707.6 1948.6C710.4 1950.1 713.9 1953.8 715.9 1956.2C717.9 1958.6 717.4 1959.3 719.6 1962.9C721.9 1966.5 726.1 1971.9 729.4 1977.6C732.7 1983.3 735.9 1990.7 739.2 1997.2C742.5 2003.8 745.8 2010.1 749.1 2016.9C752.4 2023.7 755.6 2031.6 758.9 2038.1C762.2 2044.6 765.4 2051.2 768.7 2056.1C772 2061 774.7 2064.7 778.5 2067.6C782.3 2070.5 787 2072.3 791.6 2073.3C796.2 2074.3 801.1 2073.4 806.3 2073.8C811.5 2074.2 817.1 2074.3 822.6 2075.7C828.1 2077.1 833.5 2080.2 839 2082.3C844.5 2084.4 849.9 2086.1 855.4 2088C860.9 2089.9 866.2 2092.2 871.7 2093.7C877.2 2095.1 882.4 2096.4 888.1 2096.7C893.8 2097 901.4 2096.5 906 2095.7C910.6 2094.9 912.4 2093.8 915.9 2092.1C919.4 2090.4 923.8 2088.5 927.3 2085.5C930.8 2082.5 933.5 2077.9 937.1 2074.1C940.7 2070.3 944.8 2066.7 948.6 2062.6C952.4 2058.5 955.2 2055.5 960 2049.6C964.8 2043.6 972 2033.5 977.5 2026.9C983 2020.3 987.9 2015.5 993 2009.8C998.1 2004.1 1003.2 1999 1008.4 1992.8C1013.5 1986.6 1019.2 1978.9 1023.9 1972.7C1028.5 1966.5 1032.2 1961.3 1036.3 1955.6C1040.4 1949.9 1044.6 1944.3 1048.7 1938.6C1052.8 1932.9 1057.5 1926.3 1061.1 1921.5C1064.7 1916.7 1067.7 1912.5 1070.4 1909.9C1073.1 1907.3 1075.6 1906.5 1077.4 1906C1079.2 1905.5 1079.7 1905 1081.1 1906.8C1082.5 1908.6 1084.2 1912.8 1085.7 1917C1087.2 1921.2 1088.7 1926.2 1090.2 1931.7C1091.7 1937.2 1093.2 1943.4 1094.7 1949.8C1096.2 1956.2 1097.7 1963.4 1099.2 1970.2C1100.7 1977 1102.3 1984.2 1103.8 1990.6C1105.3 1997 1106.6 2002.3 1108.3 2008.7C1110 2015.1 1111.9 2022.7 1114 2029.1C1116.1 2035.5 1118.3 2041.7 1120.8 2047.2C1123.2 2052.7 1125.7 2058.1 1128.7 2061.9C1131.7 2065.7 1134.9 2068.1 1138.9 2069.8C1142.9 2071.5 1148 2072.3 1152.5 2072.1C1157 2071.9 1161.8 2070.6 1166 2068.7C1170.2 2066.8 1173.6 2064.6 1177.4 2060.8C1181.2 2057 1185.3 2051.7 1188.7 2046C1192.1 2040.3 1194.9 2033.8 1197.7 2026.8C1200.5 2019.8 1203.2 2012.1 1205.7 2004.2C1208.2 1996.3 1210.2 1987.7 1212.5 1979.2C1214.8 1970.7 1217.1 1961.7 1219.2 1953.2C1221.3 1944.7 1223 1936 1224.9 1928.3C1226.8 1920.6 1228.6 1917.1 1230.6 1906.8C1232.6 1896.5 1234 1885.6 1236.7 1866.7C1239.4 1847.8 1244 1811.1 1246.7 1793.3C1249.4 1775.5 1250.9 1771.8 1252.7 1760C1254.5 1748.2 1255.8 1735.7 1257.3 1722.2C1258.8 1708.7 1260.5 1692.3 1262 1678.9C1263.5 1665.5 1264.9 1652.6 1266.6 1641.7C1268.3 1630.8 1270.2 1622.1 1272 1613.8C1273.8 1605.5 1275.7 1597 1277.5 1592.1C1279.3 1587.2 1281 1584.4 1282.9 1584.4C1284.8 1584.4 1287.2 1587.7 1289.1 1592.1C1291 1596.5 1292.6 1603.5 1294.5 1610.7C1296.4 1617.9 1298.6 1626.7 1300.7 1635.5C1302.8 1644.3 1304.8 1654.1 1306.9 1663.4C1309 1672.7 1311.5 1682.9 1313.1 1691.2C1314.7 1699.5 1315.3 1705.2 1316.7 1713.3C1318.1 1721.4 1320 1731.1 1321.7 1740C1323.4 1748.9 1324.8 1758.4 1326.7 1766.7C1328.6 1775 1331.1 1782.2 1333.3 1790C1335.5 1797.8 1337.5 1803.8 1340 1813.3C1342.5 1822.8 1345.5 1835 1348.3 1846.7C1351.1 1858.4 1353.6 1872.2 1356.7 1883.3C1359.8 1894.4 1363.5 1904.7 1366.7 1913.3C1369.9 1921.9 1373.3 1928.9 1376 1935C1378.7 1941.1 1380.8 1944.3 1383 1950C1385.2 1955.7 1387.3 1962.9 1389.4 1968.9C1391.5 1974.9 1393.6 1980.5 1395.8 1985.8C1398 1991.1 1400.3 1996.8 1402.6 2000.9C1404.9 2005 1407.5 2007.6 1409.4 2010.4C1411.3 2013.2 1412.1 2014.5 1414 2017.9C1415.9 2021.3 1418.1 2026.3 1420.8 2030.8C1423.5 2035.3 1427 2040.3 1430.4 2044.7C1433.9 2049.1 1437.8 2053.9 1441.5 2057.1C1445.2 2060.3 1449.8 2061.5 1452.6 2064C1455.4 2066.5 1456 2068.8 1458.1 2072.3C1460.2 2075.8 1462 2082.5 1465 2084.8C1468 2087.1 1472.6 2084.1 1476.1 2086.2C1479.6 2088.3 1482.3 2094 1485.8 2097.2C1489.3 2100.4 1493.7 2104.1 1496.9 2105.5C1500.1 2106.9 1502.4 2105.2 1505.2 2105.5C1508 2105.8 1510.3 2108.3 1513.5 2107.6C1516.7 2106.9 1519.7 2102.9 1524.5 2101.4C1529.3 2099.9 1537.7 2100.7 1542.5 2098.6C1547.3 2096.5 1549.4 2089.9 1553.6 2088.9C1557.8 2087.9 1562.8 2093.9 1567.4 2092.4C1572 2090.9 1577.2 2081.3 1581.3 2080C1585.4 2078.7 1588.4 2087.2 1592.3 2084.8C1596.2 2082.4 1602.2 2069.7 1604.8 2065.4C1607.4 2061.1 1607.5 2060.1 1608 2059" stroke="#f5333a" stroke-width="4.3" fill="none" stroke-linejoin="round" stroke-linecap="round"/>
<line x1="352.5" y1="1617" x2="352.5" y2="2279.5" stroke="#111" stroke-width="3" stroke-dasharray="14 12.3"/>
<line x1="488.5" y1="1510" x2="488.5" y2="2279.5" stroke="#111" stroke-width="3" stroke-dasharray="14 12.3"/>
<line x1="508.4" y1="1385" x2="508.4" y2="2279.5" stroke="#111" stroke-width="3" stroke-dasharray="14 12.3"/>
<line x1="705" y1="1578" x2="705" y2="2279.5" stroke="#111" stroke-width="3" stroke-dasharray="14 12.3"/>
<line x1="1078" y1="1567" x2="1078" y2="2279.5" stroke="#111" stroke-width="3" stroke-dasharray="14 12.3"/>
<line x1="1282.5" y1="1383" x2="1282.5" y2="2279.5" stroke="#111" stroke-width="3" stroke-dasharray="14 12.3"/>
<path d="M379.7 1249 V1270 M379.7 2281.5 V2302.5 M625.3 1249 V1270 M625.3 2281.5 V2302.5 M871 1249 V1270 M871 2281.5 V2302.5 M1116.7 1249 V1270 M1116.7 2281.5 V2302.5 M1362.3 1249 V1270 M1362.3 2281.5 V2302.5 M1608 1249 V1270 M1608 2281.5 V2302.5 M256.8 1249 V1260 M256.8 2281.5 V2292.5 M502.5 1249 V1260 M502.5 2281.5 V2292.5 M748.2 1249 V1260 M748.2 2281.5 V2292.5 M993.8 1249 V1260 M993.8 2281.5 V2292.5 M1239.5 1249 V1260 M1239.5 2281.5 V2292.5 M1485.2 1249 V1260 M1485.2 2281.5 V2292.5" stroke="#000" stroke-width="4" fill="none"/>
<rect x="134" y="1249" width="1474" height="1032.5" fill="none" stroke="#000" stroke-width="4"/>
<path d="M134 2281 V2302 M1608 2281 V2302" stroke="#000" stroke-width="4"/>
<text x="134" y="2362" font-size="57.5" fill="#000" text-anchor="middle">1700</text>
<text x="379.7" y="2362" font-size="57.5" fill="#000" text-anchor="middle">1600</text>
<text x="625.3" y="2362" font-size="57.5" fill="#000" text-anchor="middle">1500</text>
<text x="871" y="2362" font-size="57.5" fill="#000" text-anchor="middle">1400</text>
<text x="1116.7" y="2362" font-size="57.5" fill="#000" text-anchor="middle">1300</text>
<text x="1362.3" y="2362" font-size="57.5" fill="#000" text-anchor="middle">1200</text>
<text x="1608" y="2362" font-size="57.5" fill="#000" text-anchor="middle">1100</text>
<text x="0" y="0" transform="translate(374 1559.5) rotate(-90)" text-anchor="middle" font-size="56">1611</text>
<text x="0" y="0" transform="translate(493 1448) rotate(-90)" text-anchor="middle" font-size="56">1556</text>
<text x="0" y="0" transform="translate(523.5 1321) rotate(-90)" text-anchor="middle" font-size="56">1547</text>
<text x="0" y="0" transform="translate(723 1519) rotate(-90)" text-anchor="middle" font-size="56">1468</text>
<text x="0" y="0" transform="translate(1098.5 1500) rotate(-90)" text-anchor="middle" font-size="56">1316</text>
<text x="0" y="0" transform="translate(1307 1321.5) rotate(-90)" text-anchor="middle" font-size="56">1232</text>
<text x="153" y="1347" font-size="81" fill="#000">b)</text>
<text x="1430" y="1378.5" font-size="56" fill="#000">0.05</text>
<path d="M1553.3 1279.5 V1440.5 M1546.8 1279.5 H1559.8 M1546.8 1440.5 H1559.8" stroke="#000" stroke-width="3.5" fill="none"/>
<text x="695" y="1336" font-size="57" fill="#000">PdAl</text>
<text x="694" y="1411" font-size="57" fill="#000">(degreened, 600°C)</text>
<line x1="841.5" y1="1419" x2="841.5" y2="1780" stroke="#454545" stroke-width="4.5"/>
<path d="M832.5 1780 L850.5 1780 L841.5 1824 Z" fill="#454545"/>
<text x="731.5" y="2174" font-size="57" fill="#ff0000">PdAl</text>
<text x="731.5" y="2250" font-size="57" fill="#ff0000">(aged, 900°C)</text>
<line x1="937.7" y1="2197" x2="937.7" y2="2127" stroke="#ff0000" stroke-width="4"/>
<path d="M927.7 2127 L947.7 2127 L937.7 2090 Z" fill="#ff0000"/>
<text x="0" y="0" transform="translate(84.5 1766) rotate(-90)" text-anchor="middle" font-size="69">Absorbance (a.u.)</text>
<text x="872" y="2440" text-anchor="middle" font-size="69">Wave number (cm<tspan dy="-26" font-size="40">-1</tspan><tspan dy="26">)</tspan></text>
</svg></body></html>
